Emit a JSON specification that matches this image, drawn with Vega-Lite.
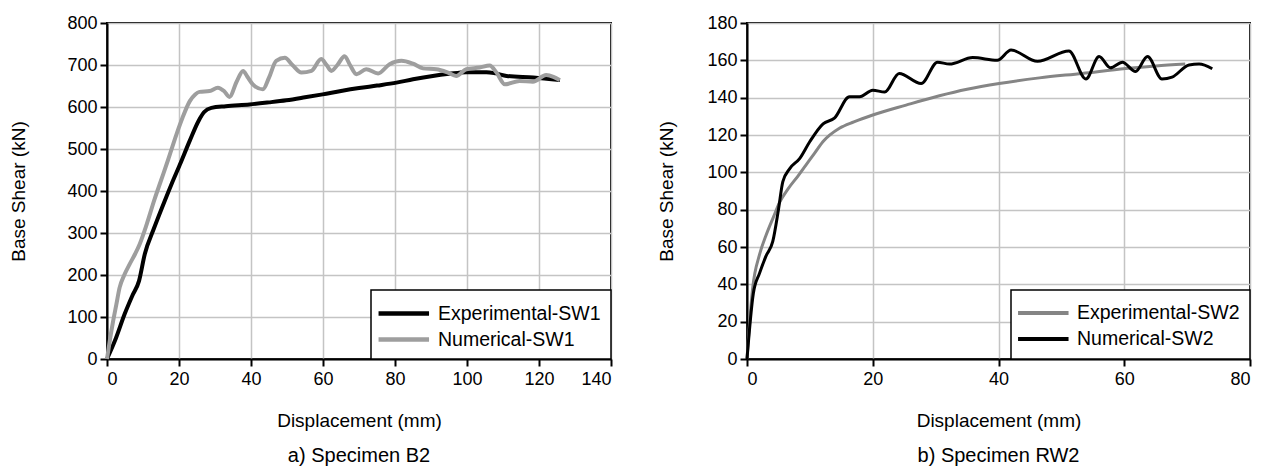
{
  "$schema": "https://vega.github.io/schema/vega-lite/v6.json",
  "padding": {"left": 8, "top": 13, "right": 0, "bottom": 0},
  "background": "white",
  "spacing": 136,
  "bounds": "flush",
  "datasets": {
    "sw1": [
      {"s": "Experimental-SW1", "d": 0, "v": 0},
      {"s": "Experimental-SW1", "d": 2.5, "v": 50},
      {"s": "Experimental-SW1", "d": 4.9, "v": 107},
      {"s": "Experimental-SW1", "d": 7, "v": 150},
      {"s": "Experimental-SW1", "d": 8.9, "v": 186},
      {"s": "Experimental-SW1", "d": 10.5, "v": 250},
      {"s": "Experimental-SW1", "d": 13, "v": 310},
      {"s": "Experimental-SW1", "d": 15.5, "v": 365},
      {"s": "Experimental-SW1", "d": 18, "v": 418},
      {"s": "Experimental-SW1", "d": 20.5, "v": 468},
      {"s": "Experimental-SW1", "d": 23, "v": 520},
      {"s": "Experimental-SW1", "d": 25.5, "v": 568},
      {"s": "Experimental-SW1", "d": 27, "v": 588},
      {"s": "Experimental-SW1", "d": 29, "v": 598},
      {"s": "Experimental-SW1", "d": 33, "v": 602},
      {"s": "Experimental-SW1", "d": 39.6, "v": 606},
      {"s": "Experimental-SW1", "d": 45, "v": 611},
      {"s": "Experimental-SW1", "d": 49.8, "v": 616},
      {"s": "Experimental-SW1", "d": 55, "v": 623},
      {"s": "Experimental-SW1", "d": 59.9, "v": 630},
      {"s": "Experimental-SW1", "d": 65, "v": 638},
      {"s": "Experimental-SW1", "d": 70, "v": 645},
      {"s": "Experimental-SW1", "d": 75, "v": 651},
      {"s": "Experimental-SW1", "d": 80.4, "v": 658},
      {"s": "Experimental-SW1", "d": 85, "v": 666},
      {"s": "Experimental-SW1", "d": 90.5, "v": 674},
      {"s": "Experimental-SW1", "d": 95, "v": 679},
      {"s": "Experimental-SW1", "d": 99.8, "v": 683},
      {"s": "Experimental-SW1", "d": 105.4, "v": 683},
      {"s": "Experimental-SW1", "d": 108, "v": 680},
      {"s": "Experimental-SW1", "d": 111, "v": 674},
      {"s": "Experimental-SW1", "d": 118.4, "v": 670},
      {"s": "Experimental-SW1", "d": 125.8, "v": 664},
      {"s": "Numerical-SW1", "d": 0, "v": 0},
      {"s": "Numerical-SW1", "d": 0.8, "v": 45},
      {"s": "Numerical-SW1", "d": 1.7, "v": 90},
      {"s": "Numerical-SW1", "d": 2.6, "v": 130},
      {"s": "Numerical-SW1", "d": 3.5, "v": 170},
      {"s": "Numerical-SW1", "d": 4.8, "v": 200},
      {"s": "Numerical-SW1", "d": 6.3, "v": 226},
      {"s": "Numerical-SW1", "d": 7.8, "v": 250},
      {"s": "Numerical-SW1", "d": 9.1, "v": 274},
      {"s": "Numerical-SW1", "d": 11, "v": 320},
      {"s": "Numerical-SW1", "d": 13.2, "v": 380},
      {"s": "Numerical-SW1", "d": 15, "v": 425},
      {"s": "Numerical-SW1", "d": 17, "v": 475},
      {"s": "Numerical-SW1", "d": 19.3, "v": 535},
      {"s": "Numerical-SW1", "d": 21, "v": 575},
      {"s": "Numerical-SW1", "d": 23, "v": 614},
      {"s": "Numerical-SW1", "d": 24.5, "v": 630},
      {"s": "Numerical-SW1", "d": 25.7, "v": 636},
      {"s": "Numerical-SW1", "d": 28.5, "v": 638},
      {"s": "Numerical-SW1", "d": 30.8, "v": 646},
      {"s": "Numerical-SW1", "d": 32.5, "v": 638},
      {"s": "Numerical-SW1", "d": 34, "v": 624},
      {"s": "Numerical-SW1", "d": 36, "v": 660},
      {"s": "Numerical-SW1", "d": 37.8, "v": 686},
      {"s": "Numerical-SW1", "d": 39, "v": 672},
      {"s": "Numerical-SW1", "d": 40.5, "v": 654},
      {"s": "Numerical-SW1", "d": 43.3, "v": 642},
      {"s": "Numerical-SW1", "d": 45, "v": 670},
      {"s": "Numerical-SW1", "d": 47, "v": 710},
      {"s": "Numerical-SW1", "d": 49.4, "v": 717},
      {"s": "Numerical-SW1", "d": 51.5, "v": 700},
      {"s": "Numerical-SW1", "d": 54, "v": 682},
      {"s": "Numerical-SW1", "d": 56.8, "v": 686},
      {"s": "Numerical-SW1", "d": 59.5, "v": 714},
      {"s": "Numerical-SW1", "d": 61, "v": 700},
      {"s": "Numerical-SW1", "d": 62.3, "v": 686},
      {"s": "Numerical-SW1", "d": 64, "v": 700},
      {"s": "Numerical-SW1", "d": 66, "v": 721},
      {"s": "Numerical-SW1", "d": 67.5, "v": 700},
      {"s": "Numerical-SW1", "d": 69.3, "v": 678},
      {"s": "Numerical-SW1", "d": 72, "v": 690},
      {"s": "Numerical-SW1", "d": 75.3, "v": 680},
      {"s": "Numerical-SW1", "d": 78.5, "v": 702},
      {"s": "Numerical-SW1", "d": 81.8, "v": 710},
      {"s": "Numerical-SW1", "d": 85, "v": 703},
      {"s": "Numerical-SW1", "d": 87.8, "v": 692},
      {"s": "Numerical-SW1", "d": 91.5, "v": 690},
      {"s": "Numerical-SW1", "d": 94.7, "v": 682},
      {"s": "Numerical-SW1", "d": 97, "v": 674},
      {"s": "Numerical-SW1", "d": 99.8, "v": 690},
      {"s": "Numerical-SW1", "d": 103.5, "v": 694},
      {"s": "Numerical-SW1", "d": 106.3, "v": 699},
      {"s": "Numerical-SW1", "d": 108.2, "v": 682},
      {"s": "Numerical-SW1", "d": 110.5, "v": 654},
      {"s": "Numerical-SW1", "d": 114.6, "v": 662},
      {"s": "Numerical-SW1", "d": 118.3, "v": 660},
      {"s": "Numerical-SW1", "d": 122, "v": 676},
      {"s": "Numerical-SW1", "d": 124, "v": 672},
      {"s": "Numerical-SW1", "d": 125.8, "v": 664}
    ],
    "sw2": [
      {"s": "Experimental-SW2", "d": 0, "v": 0},
      {"s": "Experimental-SW2", "d": 0.9, "v": 38},
      {"s": "Experimental-SW2", "d": 2, "v": 56},
      {"s": "Experimental-SW2", "d": 3, "v": 66},
      {"s": "Experimental-SW2", "d": 4.2, "v": 76},
      {"s": "Experimental-SW2", "d": 5.2, "v": 84},
      {"s": "Experimental-SW2", "d": 6.5, "v": 91},
      {"s": "Experimental-SW2", "d": 8.1, "v": 98},
      {"s": "Experimental-SW2", "d": 9.4, "v": 104},
      {"s": "Experimental-SW2", "d": 10.7, "v": 110},
      {"s": "Experimental-SW2", "d": 12.1, "v": 116.5},
      {"s": "Experimental-SW2", "d": 14.7, "v": 123.6},
      {"s": "Experimental-SW2", "d": 17, "v": 127},
      {"s": "Experimental-SW2", "d": 20, "v": 130.7},
      {"s": "Experimental-SW2", "d": 25.3, "v": 136},
      {"s": "Experimental-SW2", "d": 30.6, "v": 141},
      {"s": "Experimental-SW2", "d": 35, "v": 144.5},
      {"s": "Experimental-SW2", "d": 40.1, "v": 147.6},
      {"s": "Experimental-SW2", "d": 46.5, "v": 150.6},
      {"s": "Experimental-SW2", "d": 53.3, "v": 153},
      {"s": "Experimental-SW2", "d": 60.2, "v": 155.6},
      {"s": "Experimental-SW2", "d": 65, "v": 157},
      {"s": "Experimental-SW2", "d": 69.7, "v": 158},
      {"s": "Numerical-SW2", "d": 0, "v": 0},
      {"s": "Numerical-SW2", "d": 1, "v": 35},
      {"s": "Numerical-SW2", "d": 2, "v": 46},
      {"s": "Numerical-SW2", "d": 3, "v": 55},
      {"s": "Numerical-SW2", "d": 4.1, "v": 63},
      {"s": "Numerical-SW2", "d": 5, "v": 80},
      {"s": "Numerical-SW2", "d": 5.7, "v": 95},
      {"s": "Numerical-SW2", "d": 6.8, "v": 102},
      {"s": "Numerical-SW2", "d": 8.4, "v": 107.5},
      {"s": "Numerical-SW2", "d": 10, "v": 116.5},
      {"s": "Numerical-SW2", "d": 12.1, "v": 126},
      {"s": "Numerical-SW2", "d": 13.9, "v": 129},
      {"s": "Numerical-SW2", "d": 16.3, "v": 140.5},
      {"s": "Numerical-SW2", "d": 17.9, "v": 140.5},
      {"s": "Numerical-SW2", "d": 20, "v": 144},
      {"s": "Numerical-SW2", "d": 21.9, "v": 143},
      {"s": "Numerical-SW2", "d": 24.2, "v": 153},
      {"s": "Numerical-SW2", "d": 27.7, "v": 147.6},
      {"s": "Numerical-SW2", "d": 30.3, "v": 159},
      {"s": "Numerical-SW2", "d": 32.2, "v": 158},
      {"s": "Numerical-SW2", "d": 35.9, "v": 161.5},
      {"s": "Numerical-SW2", "d": 39.8, "v": 160},
      {"s": "Numerical-SW2", "d": 42, "v": 165.5},
      {"s": "Numerical-SW2", "d": 46.2, "v": 159.5},
      {"s": "Numerical-SW2", "d": 51.2, "v": 165},
      {"s": "Numerical-SW2", "d": 53.9, "v": 150},
      {"s": "Numerical-SW2", "d": 56, "v": 162},
      {"s": "Numerical-SW2", "d": 57.8, "v": 156},
      {"s": "Numerical-SW2", "d": 59.7, "v": 159},
      {"s": "Numerical-SW2", "d": 61.8, "v": 154},
      {"s": "Numerical-SW2", "d": 63.7, "v": 162},
      {"s": "Numerical-SW2", "d": 66, "v": 150},
      {"s": "Numerical-SW2", "d": 67.6, "v": 151},
      {"s": "Numerical-SW2", "d": 70.3, "v": 157.5},
      {"s": "Numerical-SW2", "d": 71.9, "v": 158},
      {"s": "Numerical-SW2", "d": 74, "v": 155.5}
    ]
  },
  "config": {
    "font": "Liberation Sans",
    "view": {"stroke": "black", "strokeWidth": 2},
    "axis": {
      "domainColor": "black", "domainWidth": 2,
      "tickColor": "black", "tickWidth": 2, "tickSize": 7,
      "labelFont": "Liberation Sans", "labelFontSize": 18, "labelColor": "black",
      "titleFont": "Liberation Sans", "titleFontSize": 19, "titleFontWeight": "normal", "titleColor": "black",
      "gridColor": "#c4c4c4", "gridWidth": 1.5
    },
    "axisX": {"labelPadding": 4, "titlePadding": 23},
    "axisY": {"labelPadding": 3},
    "legend": {
      "orient": "bottom-right", "offset": 0,
      "strokeColor": "black", "fillColor": "white", "strokeWidth": 1.5,
      "padding": 10, "rowPadding": 3,
      "labelFont": "Liberation Sans", "labelFontSize": 19.5, "labelColor": "black",
      "labelOffset": 30, "labelLimit": 400
    },
    "title": {"orient": "bottom", "fontSize": 20, "fontWeight": "normal", "color": "black", "offset": 16, "frame": "group", "font": "Liberation Sans"}
  },
  "resolve": {"scale": {"color": "independent"}, "legend": {"color": "independent"}},
  "hconcat": [
    {
      "width": 504, "height": 336,
      "title": "a) Specimen B2",
      "data": {"name": "sw1"},
      "mark": {"type": "line", "strokeWidth": 4, "interpolate": "monotone"},
      "encoding": {
        "x": {"field": "d", "type": "quantitative", "title": "Displacement (mm)",
              "scale": {"domain": [0, 140], "nice": false},
              "axis": {"values": [0, 20, 40, 60, 80, 100, 120, 140]}},
        "y": {"field": "v", "type": "quantitative", "title": "Base Shear (kN)",
              "scale": {"domain": [0, 800], "nice": false},
              "axis": {"values": [0, 100, 200, 300, 400, 500, 600, 700, 800], "titlePadding": 38}},
        "color": {"field": "s", "type": "nominal",
                  "scale": {"domain": ["Experimental-SW1", "Numerical-SW1"], "range": ["#000000", "#9e9e9e"]},
                  "legend": {"title": null, "symbolType": "M-1.45,0H3.14", "symbolSize": 484, "symbolStrokeWidth": 4.5}}
      }
    },
    {
      "width": 503, "height": 336,
      "title": "b) Specimen RW2",
      "data": {"name": "sw2"},
      "mark": {"type": "line", "strokeWidth": 3, "interpolate": "monotone"},
      "encoding": {
        "x": {"field": "d", "type": "quantitative", "title": "Displacement (mm)",
              "scale": {"domain": [0, 80], "nice": false},
              "axis": {"values": [0, 20, 40, 60, 80]}},
        "y": {"field": "v", "type": "quantitative", "title": "Base Shear (kN)",
              "scale": {"domain": [0, 180], "nice": false},
              "axis": {"values": [0, 20, 40, 60, 80, 100, 120, 140, 160, 180], "titlePadding": 30}},
        "color": {"field": "s", "type": "nominal",
                  "scale": {"domain": ["Experimental-SW2", "Numerical-SW2"], "range": ["#858585", "#000000"]},
                  "legend": {"title": null, "symbolType": "M-1.45,0H3.14", "symbolSize": 484, "symbolStrokeWidth": 4}}
      }
    }
  ]
}
